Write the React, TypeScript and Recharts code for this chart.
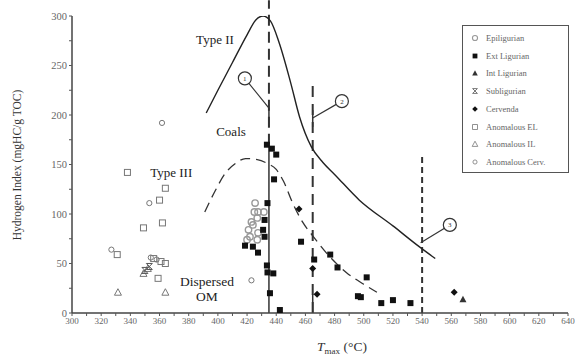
import React from 'react';
import { ScatterChart, Scatter, XAxis, YAxis, ReferenceLine, ReferenceDot } from 'recharts';

// Tmax (°C) vs Hydrogen Index (mgHC/g TOC)
const xTicks = [300, 310, 320, 330, 340, 350, 360, 370, 380, 390, 400, 410, 420, 430, 440, 450, 460, 470, 480, 490, 500, 510, 520, 530, 540, 550, 560, 570, 580, 590, 600, 610, 620, 630, 640];
const yTicks = [0, 25, 50, 75, 100, 125, 150, 175, 200, 225, 250, 275, 300];

const epiligurian = [[425.5, 111], [425, 102], [427.5, 102], [431.5, 102], [427, 96], [424, 89], [421, 84], [422, 77], [427.5, 81], [427, 74], [420, 74], [423, 92]];
const extLigurian = [[433.6, 170], [437, 166], [440, 160], [438.5, 135], [434, 111], [432, 94], [431, 84], [432, 77], [418.6, 68], [424, 67], [427.5, 61], [433.6, 48], [434, 41], [438, 40], [435.7, 20], [442.5, 3], [457, 72], [466, 54], [477, 59], [482, 46], [502, 36], [496, 17], [498, 16], [512, 10], [520, 13], [532, 10]];
const intLigurian = [[568, 14]];
const subligurian = [[350, 43], [353, 47]];
const cervenda = [[455.6, 105], [465, 45], [468, 19], [562, 21]];
const anomalousEL = [[338, 142], [364, 126], [360, 114], [362, 91], [349, 86], [331, 59], [359, 35], [356, 55], [361, 52], [364, 50]];
const anomalousIL = [[331.5, 21], [364, 21], [349, 40], [352, 45]];
const anomalousCerv = [[361.7, 192], [353, 111], [327, 64], [423, 33], [354, 56], [358, 54]];

const type2Curve = [[392, 202], [400, 225], [410, 253], [420, 281], [426, 296], [431, 300], [436, 295], [442, 273], [450, 232], [456, 198], [464, 168], [472, 152], [480, 140], [497, 114], [520, 88], [538, 67], [549, 55]];
const type3Curve = [[391, 102], [398, 123], [405, 141], [412, 151], [419, 156], [427, 155], [434, 151], [440, 145], [445, 133], [451, 112], [458, 92], [465, 78], [476, 58], [488, 41], [500, 29], [509, 21]];

// numbered markers: circle position, end of its pointer
const markerLabels = ['1', '2', '3'];
const markerAt = [[418.5, 237], [485, 214], [559, 89]];
const markerTo = [[435, 207], [465, 197], [539, 71]];

const pts = (a: number[][]) => a.map(([x, y]) => ({ x, y }));

const openCircle = (p: any) => <circle cx={p.cx} cy={p.cy} r={3.2} fill="none" stroke="#999" strokeWidth={1.4} />;
const blackSquare = (p: any) => <rect x={p.cx - 3} y={p.cy - 3} width={6} height={6} fill="#111" />;
const blackTriangle = (p: any) => <path d={`M${p.cx},${p.cy - 3.5}L${p.cx + 3.5},${p.cy + 3}L${p.cx - 3.5},${p.cy + 3}Z`} fill="#333" />;
const star = (p: any) => (
  <g stroke="#555" strokeWidth={1}>
    <line x1={p.cx - 3} y1={p.cy - 3} x2={p.cx + 3} y2={p.cy + 3} />
    <line x1={p.cx + 3} y1={p.cy - 3} x2={p.cx - 3} y2={p.cy + 3} />
    <line x1={p.cx - 3} y1={p.cy - 3} x2={p.cx + 3} y2={p.cy - 3} />
    <line x1={p.cx - 3} y1={p.cy + 3} x2={p.cx + 3} y2={p.cy + 3} />
  </g>
);
const blackDiamond = (p: any) => <path d={`M${p.cx},${p.cy - 3.5}L${p.cx + 3.5},${p.cy}L${p.cx},${p.cy + 3.5}L${p.cx - 3.5},${p.cy}Z`} fill="#111" />;
const openSquare = (p: any) => <rect x={p.cx - 3} y={p.cy - 3} width={6} height={6} fill="none" stroke="#777" strokeWidth={1} />;
const openTriangle = (p: any) => <path d={`M${p.cx},${p.cy - 3.5}L${p.cx + 3.5},${p.cy + 3}L${p.cx - 3.5},${p.cy + 3}Z`} fill="none" stroke="#777" strokeWidth={1} />;
const openCerv = (p: any) => <circle cx={p.cx} cy={p.cy} r={2.6} fill="none" stroke="#777" strokeWidth={1} />;
const noShape = () => <g />;

const legendItems = [
  { name: 'Epiligurian', shape: openCircle },
  { name: 'Ext Ligurian', shape: blackSquare },
  { name: 'Int Ligurian', shape: blackTriangle },
  { name: 'Subligurian', shape: star },
  { name: 'Cervenda', shape: blackDiamond },
  { name: 'Anomalous EL', shape: openSquare },
  { name: 'Anomalous IL', shape: openTriangle },
  { name: 'Anomalous Cerv.', shape: openCerv },
];

const serif = 'Liberation Serif, Times New Roman, serif';

const XTitle = (props: any) => {
  const { viewBox } = props;
  return (
    <text x={viewBox.x + 270} y={viewBox.y + 38} textAnchor="middle" fontFamily={serif} fontSize={13.5} fill="#333">
      <tspan fontStyle="italic">T</tspan>
      <tspan fontSize={9} dy={3}>max</tspan>
      <tspan dy={-3}> (°C)</tspan>
    </text>
  );
};

const YTitle = () => (
  <text x={18} y={165} transform="rotate(-90, 18, 165)" textAnchor="middle" dominantBaseline="middle" fontFamily={serif} fontSize={11.5} fill="#333">
    Hydrogen Index (mgHC/g TOC)
  </text>
);

const textLabel = (value: string, size = 13) => ({ value, position: 'center' as const, fontSize: size, fill: '#222', fontFamily: serif });

const App = () => {
  return (
    <div style={{ position: 'absolute', left: 0, top: 0, width: 575, height: 358, background: '#fff' }}>
      <ScatterChart width={575} height={358} margin={{ top: 16, right: 7, bottom: 0, left: 32 }}>
        <XAxis
          type="number"
          dataKey="x"
          domain={[300, 640]}
          ticks={xTicks}
          interval={0}
          allowDataOverflow
          tickFormatter={(v: number) => (v % 20 === 0 ? String(v) : '')}
          height={45}
          axisLine={{ stroke: '#444', strokeWidth: 1.5 }}
          tickLine={{ stroke: '#555' }}
          tickSize={3}
          tick={{ fontSize: 9, fill: '#666', fontFamily: serif }}
          label={{ content: XTitle }}
        />
        <YAxis
          type="number"
          dataKey="y"
          domain={[0, 300]}
          ticks={yTicks}
          interval={0}
          allowDataOverflow
          tickFormatter={(v: number) => (v % 50 === 0 ? String(v) : '')}
          width={40}
          axisLine={{ stroke: '#444', strokeWidth: 1.5 }}
          tickLine={{ stroke: '#555' }}
          tickSize={3}
          tick={{ fontSize: 10.5, fill: '#666', fontFamily: serif }}
          label={{ content: YTitle }}
        />

        {/* maturity boundaries */}
        <ReferenceLine segment={[{ x: 435, y: 170 }, { x: 435, y: 316 }]} stroke="#333" strokeWidth={2} strokeDasharray="11 6" ifOverflow="visible" />
        <ReferenceLine segment={[{ x: 435, y: 0 }, { x: 435, y: 170 }]} stroke="#333" strokeWidth={1.5} />
        <ReferenceLine segment={[{ x: 465, y: 0 }, { x: 465, y: 232 }]} stroke="#333" strokeWidth={2} strokeDasharray="11 7" />
        <ReferenceLine segment={[{ x: 465, y: 0 }, { x: 465, y: 19 }]} stroke="#333" strokeWidth={1.5} />
        <ReferenceLine segment={[{ x: 540, y: 0 }, { x: 540, y: 160 }]} stroke="#333" strokeWidth={2} strokeDasharray="6 4" />
        <ReferenceLine segment={[{ x: 435, y: 188 }, { x: 435, y: 207 }]} stroke="#333" strokeWidth={1.5} />
        <ReferenceLine segment={[{ x: 465, y: 188 }, { x: 465, y: 205 }]} stroke="#333" strokeWidth={1.5} />

        {markerAt.map((m, i) => (
          <ReferenceLine key={'l' + i} segment={[{ x: m[0], y: m[1] }, { x: markerTo[i][0], y: markerTo[i][1] }]} stroke="#333" strokeWidth={1.2} />
        ))}

        <Scatter data={pts(type2Curve)} line={{ stroke: '#222', strokeWidth: 1.4 }} lineJointType="monotoneX" shape={noShape} isAnimationActive={false} />
        <Scatter data={pts(type3Curve)} line={{ stroke: '#333', strokeWidth: 1.3, strokeDasharray: '10 6' }} lineJointType="monotoneX" shape={noShape} isAnimationActive={false} />

        <Scatter data={pts(anomalousEL)} shape={openSquare} isAnimationActive={false} />
        <Scatter data={pts(anomalousIL)} shape={openTriangle} isAnimationActive={false} />
        <Scatter data={pts(anomalousCerv)} shape={openCerv} isAnimationActive={false} />
        <Scatter data={pts(subligurian)} shape={star} isAnimationActive={false} />
        <Scatter data={pts(epiligurian)} shape={openCircle} isAnimationActive={false} />
        <Scatter data={pts(extLigurian)} shape={blackSquare} isAnimationActive={false} />
        <Scatter data={pts(intLigurian)} shape={blackTriangle} isAnimationActive={false} />
        <Scatter data={pts(cervenda)} shape={blackDiamond} isAnimationActive={false} />

        {markerAt.map((m, i) => (
          <ReferenceDot key={'m' + i} x={m[0]} y={m[1]} r={6.5} fill="#fff" stroke="#333" strokeWidth={1.2} label={{ value: markerLabels[i], position: 'center', fontSize: 7, fill: '#333', fontFamily: serif }} />
        ))}

        <ReferenceDot x={398} y={276} r={0.01} fill="none" stroke="none" label={textLabel('Type II')} />
        <ReferenceDot x={409} y={183} r={0.01} fill="none" stroke="none" label={textLabel('Coals')} />
        <ReferenceDot x={368} y={142} r={0.01} fill="none" stroke="none" label={textLabel('Type III')} />
        <ReferenceDot x={392.5} y={32} r={0.01} fill="none" stroke="none" label={textLabel('Dispersed', 13.5)} />
        <ReferenceDot x={392.5} y={17} r={0.01} fill="none" stroke="none" label={textLabel('OM', 13.5)} />
      </ScatterChart>

      <div style={{ position: 'absolute', left: 462, top: 25, width: 107, height: 148, boxSizing: 'border-box', border: '1.5px solid #555', background: '#fff' }}>
        {legendItems.map((it, i) => (
          <div key={it.name} style={{ position: 'absolute', left: 7, top: 5 + i * 17.7, height: 14, display: 'flex', alignItems: 'center', whiteSpace: 'nowrap' }}>
            <svg width={10} height={10} style={{ marginRight: 6 }}>
              <g transform="translate(5,5) scale(0.8) translate(-5,-5)">{it.shape({ cx: 5, cy: 5 })}</g>
            </svg>
            <span style={{ fontFamily: serif, fontSize: 8.5, color: '#666' }}>{it.name}</span>
          </div>
        ))}
      </div>
    </div>
  );
};

export default App;
